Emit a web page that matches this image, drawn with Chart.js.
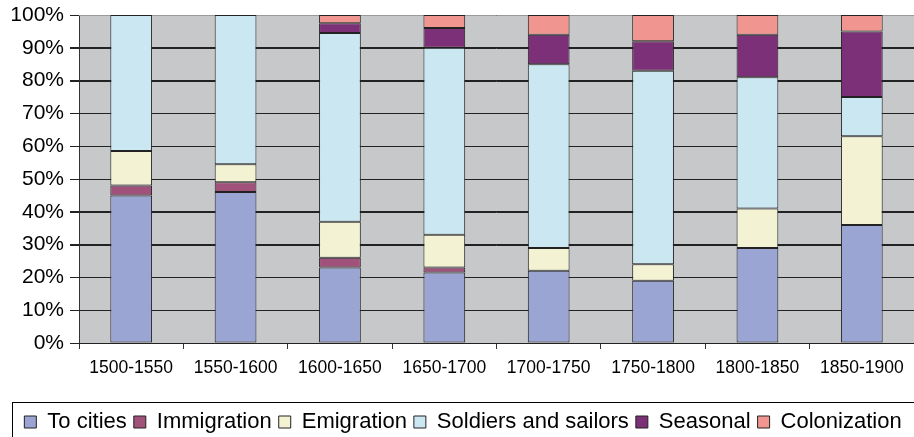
<!DOCTYPE html>
<html>
<head>
<meta charset="utf-8">
<script src="https://cdn.jsdelivr.net/npm/chart.js@4.4.1/dist/chart.umd.min.js"></script>
<style>
html,body{margin:0;padding:0;background:#fff;}
#wrap{width:914px;height:437px;overflow:hidden;}
</style>
</head>
<body>
<div id="wrap"><canvas id="c" width="914" height="437"></canvas></div>
<script>
const categories = ['1500-1550','1550-1600','1600-1650','1650-1700','1700-1750','1750-1800','1800-1850','1850-1900'];
const toCities   = [45, 46, 23, 21.5, 22, 19, 29, 36];
const immigration= [3, 3, 3, 1.5, 0, 0, 0, 0];
const emigration = [10.5, 5.5, 11, 10, 7, 5, 12, 27];
const soldiers   = [41.5, 45.5, 57.5, 57, 56, 59, 40, 12];
const seasonal   = [0, 0, 3, 6, 9, 9, 13, 20];
const colonization=[0, 0, 2.5, 4, 6, 8, 6, 5];
const yTicks = ['0%','10%','20%','30%','40%','50%','60%','70%','80%','90%','100%'];

const seriesNames = ['To cities','Immigration','Emigration','Soldiers and sailors','Seasonal','Colonization'];
const seriesData = [toCities, immigration, emigration, soldiers, seasonal, colonization];
const seriesColors = ['#9ba5d3','#a0527a','#f3f2d3','#cae7f2','#7c3077','#f09590'];

const FONT = 'Liberation Sans, Arial, sans-serif';

const framePlugin = {
  id: 'frame',
  beforeDraw(chart) {
    const {ctx, chartArea: a} = chart;
    ctx.save();
    ctx.fillStyle = '#c7c8ca';
    ctx.fillRect(a.left, a.top, a.right - a.left, a.bottom - a.top);
    ctx.restore();
  },
  beforeDatasetsDraw(chart) {
    // horizontal grid lines and y tick marks, positioned by the y scale
    const {ctx, chartArea: a} = chart;
    const y = chart.scales.y;
    ctx.save();
    ctx.lineWidth = 1;
    y.ticks.forEach(t => {
      const py = Math.round(y.getPixelForValue(t.value)) + 0.5;
      ctx.strokeStyle = t.value === 100 ? '#9a9a9a' : '#222222';
      ctx.beginPath();
      ctx.moveTo(a.left, py);
      ctx.lineTo(a.right, py);
      ctx.stroke();
      ctx.strokeStyle = '#222222';
      ctx.beginPath();
      ctx.moveTo(a.left - 9, py);
      ctx.lineTo(a.left, py);
      ctx.stroke();
    });
    ctx.restore();
  },
  afterDraw(chart) {
    const ctx = chart.ctx;
    const lg = chart.legend;
    ctx.save();
    ctx.strokeStyle = '#000';
    ctx.lineWidth = 1;
    ctx.strokeRect(lg.left + 0.5, lg.top - 1.5, chart.width + 20, 60);
    ctx.restore();
  }
};

new Chart(document.getElementById('c'), {
  type: 'bar',
  data: {
    labels: categories,
    datasets: seriesNames.map((n, i) => ({
      label: n,
      data: seriesData[i].map(v => v || null),
      backgroundColor: seriesColors[i],
      borderColor: '#222',
      borderWidth: 1,
      borderSkipped: false,
      barPercentage: 0.4,
      categoryPercentage: 1.0
    }))
  },
  options: {
    responsive: false,
    animation: false,
    devicePixelRatio: 1,
    layout: {padding: {left: 12, right: 0, top: 15, bottom: -6}},
    plugins: {
      legend: {position: 'bottom', labels: {font: {family: FONT, size: 22}, color: '#000', boxWidth: 12, boxHeight: 12, padding: 7}},
      tooltip: {enabled: false}
    },
    scales: {
      x: {
        stacked: true,
        grid: {drawOnChartArea: false, tickLength: 6, offset: true, color: '#333333', lineWidth: 1},
        border: {color: '#333333', width: 1},
        ticks: {font: {family: FONT, size: 17.5}, color: '#000', padding: 9, maxRotation: 0, autoSkip: false},
        afterFit(s) { s.height = 61; }
      },
      y: {
        stacked: true,
        min: 0, max: 100,
        grid: {color: '#222222', tickLength: 9, lineWidth: 1},
        border: {color: '#333333', width: 1},
        ticks: {stepSize: 10, font: {family: FONT, size: 21, lineHeight: 0.8}, color: '#000', padding: 6, callback: (v) => yTicks[Math.round(v / 10)]},
        afterFit(s) { s.width = 67; }
      }
    }
  },
  plugins: [framePlugin]
});
</script>
</body>
</html>
